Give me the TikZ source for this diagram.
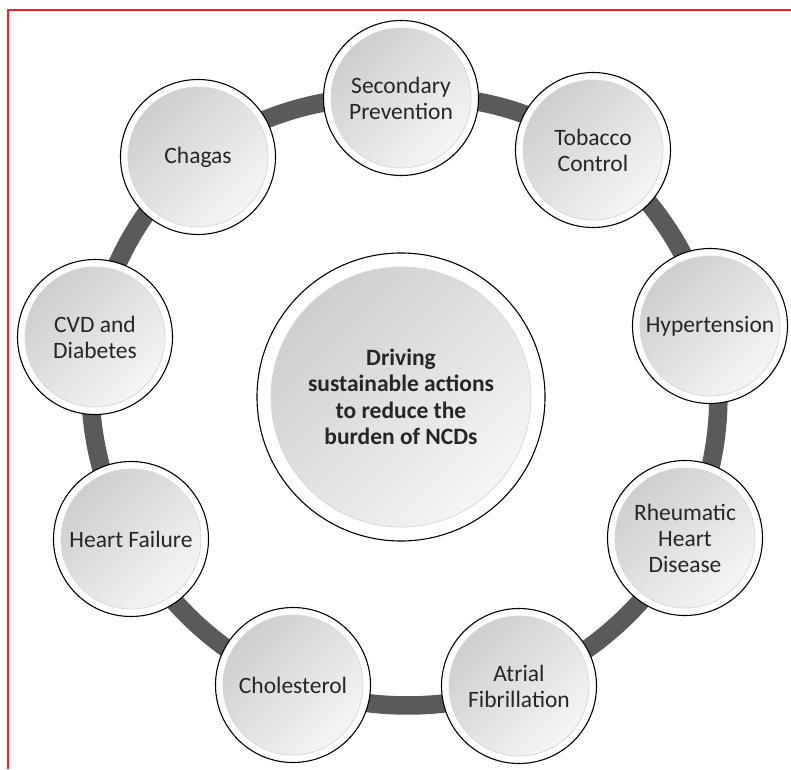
\documentclass[tikz,border=0pt]{standalone}
\usepackage{fontspec}
\setmainfont{Carlito}
\usetikzlibrary{backgrounds}
\definecolor{ringgray}{HTML}{5A5A5B}
\definecolor{framered}{HTML}{E8232B}
\definecolor{txt}{HTML}{262626}
\begin{document}
\begin{tikzpicture}[x=1pt,y=1pt,
  sat/.style={circle, draw=black, line width=1.1pt, fill=white, minimum size=155pt, inner sep=0pt,
    align=center, text=txt, font=\fontsize{23.5}{26}\selectfont,
    path picture={\shade[top color=gray!40, bottom color=gray!6, shading angle=45]
        (path picture bounding box.center) circle (70pt);
      \draw[gray!30, line width=0.8pt] (path picture bounding box.center) circle (70pt);}},
  hub/.style={circle, draw=black, line width=1.1pt, fill=white, minimum size=288pt, inner sep=0pt,
    align=center, text=txt, font=\fontsize{23.5}{26.5}\selectfont\bfseries,
    path picture={\shade[top color=gray!40, bottom color=gray!6, shading angle=45]
        (path picture bounding box.center) circle (130pt);
      \draw[gray!30, line width=0.8pt] (path picture bounding box.center) circle (130pt);}},
  ring/.style={draw=ringgray, line width=18.5pt, bend left=20, looseness=0.88},
  frame/.style={draw=framered, line width=1.3pt}
]
\useasboundingbox (0,0) rectangle (791,769);
\coordinate (fb) at (8,0);
\coordinate (fc) at (8,759);
\coordinate (fr) at (791,759);
\draw[frame] (fb) -- (fc) -- (fr);

\node[hub] (hub) at (401,372) {Driving\\sustainable actions\\to reduce the\\burden of NCDs};

\node[sat] (sp)  at (401,671) {Secondary\\Prevention};
\node[sat] (tc)  at (593,619) {Tobacco\\Control};
\node[sat] (ht)  at (710,443) {Hypertension};
\node[sat] (rh)  at (685,231) {Rheumatic\\Heart\\Disease};
\node[sat] (af)  at (519,83)  {Atrial\\Fibrillation};
\node[sat] (cho) at (293,84)  {Cholesterol};
\node[sat] (hf)  at (131,230) {Heart Failure};
\node[sat] (cvd) at (95,432)  {CVD and\\Diabetes};
\node[sat] (cg)  at (198,612) {Chagas};

\begin{scope}[on background layer]
\draw[ring] (sp.center) to (tc.center);
\draw[ring] (tc.center) to (ht.center);
\draw[ring] (ht.center) to (rh.center);
\draw[ring] (rh.center) to (af.center);
\draw[ring] (af.center) to (cho.center);
\draw[ring] (cho.center) to (hf.center);
\draw[ring] (hf.center) to (cvd.center);
\draw[ring] (cvd.center) to (cg.center);
\draw[ring] (cg.center) to (sp.center);
\end{scope}
\end{tikzpicture}
\end{document}
